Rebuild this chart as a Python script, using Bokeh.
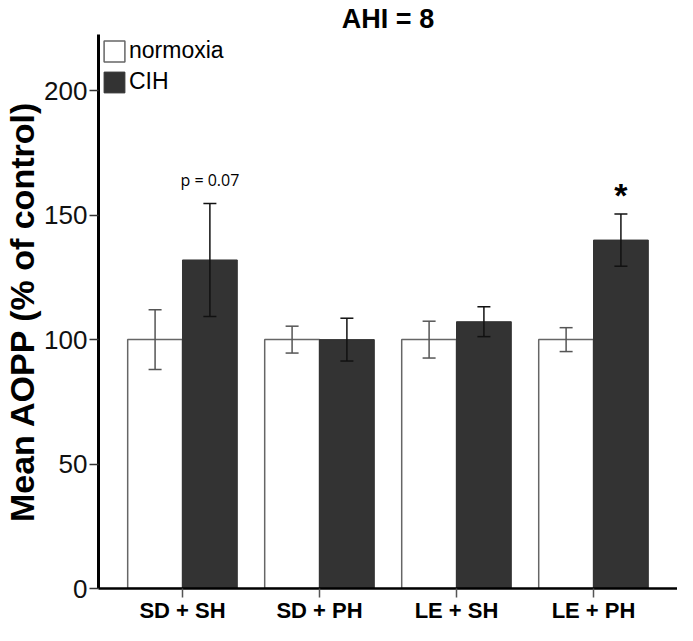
from bokeh.plotting import figure
from bokeh.models import (FactorRange, Range1d, ColumnDataSource, Whisker, FixedTicker,
                          Legend, LegendItem, TeeHead)
from bokeh.transform import dodge
from bokeh.core.properties import value
from bokeh.embed import file_html
from bokeh.resources import INLINE

# ---- data ----
groups = ["SD + SH", "SD + PH", "LE + SH", "LE + PH"]
normoxia_mean = [100, 100, 100, 100]
normoxia_err = [12, 5.4, 7.4, 4.8]
cih_mean = [132, 100, 107.2, 140]
cih_err = [22.7, 8.6, 6.0, 10.5]
y_ticks = [0, 50, 100, 150, 200]
annot_groups = ["SD + SH", "LE + PH"]
annot_text = ["p = 0.07", "*"]
annot_y = [164, 158]

src_n = ColumnDataSource(dict(
    x=groups, top=normoxia_mean,
    upper=[m + e for m, e in zip(normoxia_mean, normoxia_err)],
    lower=[m - e for m, e in zip(normoxia_mean, normoxia_err)]))
src_c = ColumnDataSource(dict(
    x=groups, top=cih_mean,
    upper=[m + e for m, e in zip(cih_mean, cih_err)],
    lower=[m - e for m, e in zip(cih_mean, cih_err)]))

FONT = "Liberation Sans"

p = figure(width=677, height=625, output_backend="svg", toolbar_location=None,
           x_range=FactorRange(factors=groups, range_padding=0.113,
                               range_padding_units="absolute"),
           y_range=Range1d(0, 222.6),
           title="AHI = 8", min_border_left=0, min_border_right=0,
           min_border_top=0, min_border_bottom=0)
p.outline_line_color = None
p.xgrid.grid_line_color = None
p.ygrid.grid_line_color = None

p.title.align = "center"
p.title.text_font = FONT
p.title.text_font_size = "27px"
p.title.text_font_style = "bold"
p.title.text_color = "black"
p.title.standoff = 2

r_n = p.vbar(x=dodge("x", -0.2, range=p.x_range), top="top", bottom=0, width=0.4,
             source=src_n, fill_color="white", line_color="#666666", line_width=1.5)
r_c = p.vbar(x=dodge("x", 0.2, range=p.x_range), top="top", bottom=0, width=0.4,
             source=src_c, fill_color="#333333", line_color="#333333", line_width=1.0)

wn = Whisker(base=dodge("x", -0.2, range=p.x_range), upper="upper", lower="lower",
             source=src_n, line_color="#555555", line_width=1.5, level="annotation",
             upper_head=TeeHead(size=13, line_color="#555555", line_width=1.5),
             lower_head=TeeHead(size=13, line_color="#555555", line_width=1.5))
wc = Whisker(base=dodge("x", 0.2, range=p.x_range), upper="upper", lower="lower",
             source=src_c, line_color="#111111", line_width=1.5, level="annotation",
             upper_head=TeeHead(size=13, line_color="#111111", line_width=1.5),
             lower_head=TeeHead(size=13, line_color="#111111", line_width=1.5))
p.add_layout(wn)
p.add_layout(wc)

src_a1 = ColumnDataSource(dict(x=annot_groups[:1], y=annot_y[:1], t=annot_text[:1]))
src_a2 = ColumnDataSource(dict(x=annot_groups[1:], y=annot_y[1:], t=annot_text[1:]))
p.text(x=dodge("x", 0.2, range=p.x_range), y="y", text="t", source=src_a1,
       text_font=value("Open Sans"), text_font_size="16px", text_color="black",
       text_align="center", text_baseline="middle")
p.text(x=dodge("x", 0.2, range=p.x_range), y="y", text="t", source=src_a2,
       text_font=value(FONT), text_font_size="34px", text_font_style="bold",
       text_color="black", text_align="center", text_baseline="alphabetic")

# axes
p.yaxis.ticker = FixedTicker(ticks=y_ticks)
p.yaxis.axis_label = "Mean AOPP (% of control)"
p.yaxis.axis_label_text_font = FONT
p.yaxis.axis_label_text_font_size = "34px"
p.yaxis.axis_label_text_font_style = "bold"
p.yaxis.axis_label_text_color = "black"
p.yaxis.axis_label_standoff = 0
p.yaxis.major_label_text_font = FONT
p.yaxis.major_label_text_font_size = "26px"
p.yaxis.major_label_text_color = "#111111"
p.yaxis.major_label_standoff = 2
p.yaxis.axis_line_width = 3
p.yaxis.axis_line_color = "black"
p.yaxis.major_tick_line_color = "#333333"
p.yaxis.major_tick_line_width = 1.5
p.yaxis.major_tick_out = 9
p.yaxis.major_tick_in = 0
p.yaxis.minor_tick_line_color = None

p.xaxis.major_label_text_font = FONT
p.xaxis.major_label_text_font_size = "22px"
p.xaxis.major_label_text_font_style = "bold"
p.xaxis.major_label_text_color = "black"
p.xaxis.major_label_standoff = 0
p.xaxis.axis_line_width = 2.5
p.xaxis.axis_line_color = "black"
p.xaxis.major_tick_line_color = "#555555"
p.xaxis.major_tick_line_width = 1.5
p.xaxis.major_tick_out = 9
p.xaxis.major_tick_in = 0

legend = Legend(items=[LegendItem(label="normoxia", renderers=[r_n]),
                       LegendItem(label="CIH", renderers=[r_c])],
                location="top_left")
legend.margin = 0
legend.padding = 3
legend.spacing = 4
legend.glyph_width = 26
legend.glyph_height = 26
legend.label_height = 26
legend.label_standoff = 2
legend.label_text_font = FONT
legend.label_text_font_size = "23px"
legend.label_text_color = "black"
legend.border_line_alpha = 0
legend.background_fill_alpha = 0
p.add_layout(legend)

open("out.html", "w").write(file_html(p, INLINE))
